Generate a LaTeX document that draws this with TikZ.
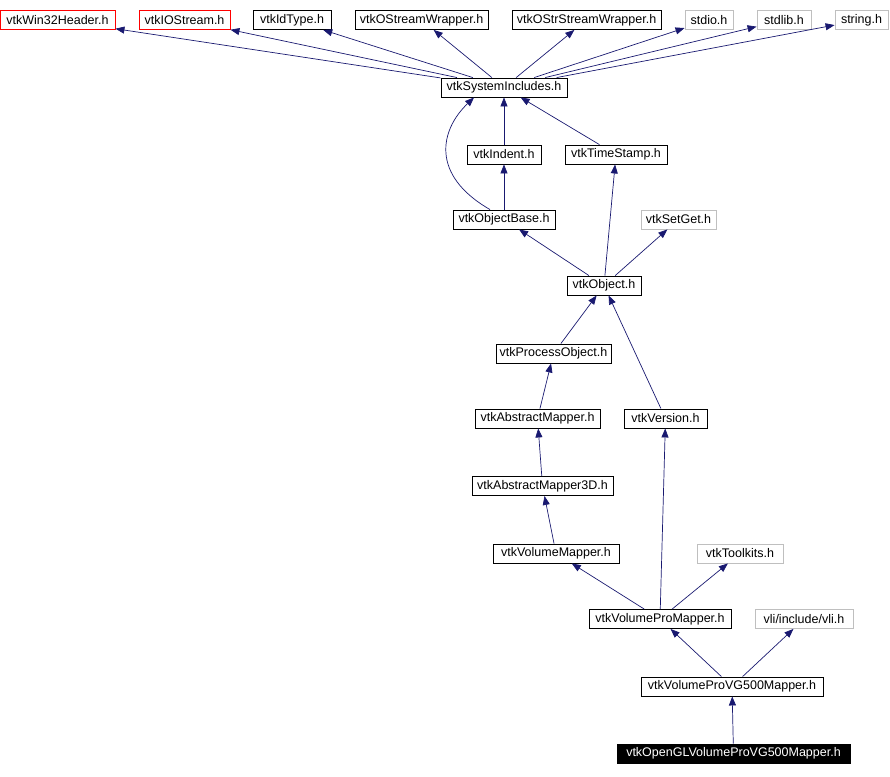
\documentclass[tikz,border=0pt]{standalone}
\usepackage{fontspec}
\setmainfont{Liberation Sans}
\usetikzlibrary{arrows.meta}
\definecolor{edgeblue}{RGB}{25,25,112}
\definecolor{extgray}{RGB}{191,191,191}
\begin{document}
\begin{tikzpicture}[
    x=1pt, y=-1pt,
    header/.style={rectangle, draw, line width=0.9pt, minimum height=19pt, inner sep=0pt, font=\fontsize{12.5}{14}\selectfont},
    missing/.style={header, draw=red},
    external/.style={header, draw=extgray},
    focus/.style={header, fill=black, text=white},
    arrow/.style={->, >={Triangle[length=9pt,width=7pt]}, draw=edgeblue, line width=0.7pt},
]
    \useasboundingbox (0,0) rectangle (890,776);

    % system headers
    \node[missing, minimum width=115pt] (win32) at (57.5, 20) {vtkWin32Header.h};
    \node[missing, minimum width=91pt] (iostream) at (184.5, 20) {vtkIOStream.h};
    \node[header, minimum width=78pt] (idtype) at (292, 20) {vtkIdType.h};
    \node[header, minimum width=133pt] (ostream) at (421.5, 20) {vtkOStreamWrapper.h};
    \node[header, minimum width=149pt] (ostrstream) at (586.5, 20) {vtkOStrStreamWrapper.h};
    \node[external, minimum width=48pt] (stdio) at (709, 20) {stdio.h};
    \node[external, minimum width=54pt] (stdlib) at (784, 20) {stdlib.h};
    \node[external, minimum width=53pt] (string) at (861.5, 20) {string.h};
    \node[header, minimum width=126pt] (sysinc) at (504, 87.5) {vtkSystemIncludes.h};

    % common
    \node[header, minimum width=74pt] (indent) at (504, 154.5) {vtkIndent.h};
    \node[header, minimum width=102pt] (timestamp) at (616, 154.5) {vtkTimeStamp.h};
    \node[header, minimum width=102pt] (objbase) at (504, 219.5) {vtkObjectBase.h};
    \node[external, minimum width=75pt] (setget) at (678.5, 219.5) {vtkSetGet.h};
    \node[header, minimum width=74pt] (object) at (604, 285.5) {vtkObject.h};

    % mappers
    \node[header, minimum width=115pt] (procobj) at (553.5, 353.5) {vtkProcessObject.h};
    \node[header, minimum width=125pt] (absmapper) at (537.5, 418.5) {vtkAbstractMapper.h};
    \node[header, minimum width=83pt] (version) at (665.5, 418.5) {vtkVersion.h};
    \node[header, minimum width=141pt] (absmapper3d) at (542.5, 486) {vtkAbstractMapper3D.h};
    \node[header, minimum width=126pt] (volmapper) at (556, 553.5) {vtkVolumeMapper.h};
    \node[external, minimum width=86pt] (toolkits) at (740, 553.5) {vtkToolkits.h};
    \node[header, minimum width=142pt] (vpmapper) at (660, 619) {vtkVolumeProMapper.h};
    \node[external, minimum width=98pt] (vli) at (804, 619) {vli/include/vli.h};
    \node[header, minimum width=182pt] (vg500) at (732, 686.5) {vtkVolumeProVG500Mapper.h};
    \node[focus, minimum width=233pt] (opengl) at (733.5, 753.5) {vtkOpenGLVolumeProVG500Mapper.h};

    % includes
    \foreach \parent in {win32, iostream, idtype, ostream, ostrstream, stdio, stdlib, string}
        \draw[arrow] (sysinc) -- (\parent);
    \draw[arrow] (indent) -- (sysinc);
    \draw[arrow] (timestamp) -- (sysinc);
    \draw[arrow] ([xshift=-14pt]objbase.north) .. controls (430,175) and (440,130) .. ([xshift=-30pt]sysinc.south);
    \draw[arrow] (objbase) -- (indent);
    \draw[arrow] (object) -- (objbase);
    \draw[arrow] (object) -- (timestamp);
    \draw[arrow] (object) -- (setget);
    \draw[arrow] (procobj) -- (object);
    \draw[arrow] (version) -- (object);
    \draw[arrow] (absmapper) -- (procobj);
    \draw[arrow] (absmapper3d) -- (absmapper);
    \draw[arrow] (volmapper) -- (absmapper3d);
    \draw[arrow] (vpmapper) -- (volmapper);
    \draw[arrow] (vpmapper) -- (version);
    \draw[arrow] (vpmapper) -- (toolkits);
    \draw[arrow] (vg500) -- (vpmapper);
    \draw[arrow] (vg500) -- (vli);
    \draw[arrow] (opengl) -- (vg500);
\end{tikzpicture}
\end{document}
